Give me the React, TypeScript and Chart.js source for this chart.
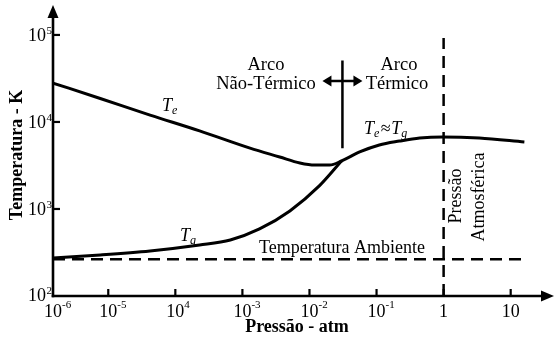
import React, { useEffect, useRef } from 'react';
import { Chart, registerables } from 'chart.js';
Chart.register(...registerables);

// Electron temperature Te (K) vs pressure (atm)
const pressureTe = [1.5e-6, 7.6e-6, 4.2e-5, 2.3e-4, 1.3e-3, 3.6e-3, 7.2e-3, 0.012, 0.02, 0.03, 0.056, 0.11, 0.22, 0.44, 0.97, 3.4, 16];
const tempTe = [28000, 18600, 12000, 7900, 5000, 3960, 3380, 3200, 3200, 3560, 4520, 5440, 6030, 6540, 6730, 6540, 5890];
// Gas temperature Tg (K) vs pressure (atm)
const pressureTg = [1.5e-6, 7.6e-6, 4.2e-5, 2.3e-4, 6.6e-4, 1.8e-3, 5.1e-3, 0.014, 0.03];
const tempTg = [274, 296, 329, 385, 440, 590, 950, 1840, 3560];
// Room temperature line
const ambientP = [1.5e-6, 16];
const ambientT = [265, 265];
// Atmospheric pressure line
const atmP = [1, 1];
const atmT = [100, 92500];
// Thermal / non-thermal boundary
const boundaryP = [0.031, 0.031];
const boundaryT = [51000, 5000];

const X_MIN = 1.5e-6;
const X_MAX = 36;
const Y_MIN = 100;
const Y_MAX = 204000;

const xTickValues = [1.5e-6, 1e-5, 1e-4, 1e-3, 1e-2, 1e-1, 1, 10];
const xTickBases = ['10', '10', '10', '10', '10', '10', '1', '10'];
const xTickExps = ['-6', '-5', '4', '-3', '-2', '-1', '', ''];
const yTickValues = [100, 1000, 10000, 100000];
const yTickExps = ['2', '3', '4', '5'];

const SERIF = "'Liberation Serif', 'Times New Roman', serif";

const toPts = (xs: number[], ys: number[]) => xs.map((x, i) => ({ x, y: ys[i] }));

type Seg = { t: string; font: string; dy?: number; dx?: number };
function drawSegs(ctx: CanvasRenderingContext2D, segs: Seg[], x: number, y: number) {
  let cx = x;
  for (const s of segs) {
    ctx.font = s.font;
    ctx.textAlign = 'left';
    ctx.textBaseline = 'alphabetic';
    cx += s.dx || 0;
    ctx.fillText(s.t, cx, y + (s.dy || 0));
    cx += ctx.measureText(s.t).width;
  }
}

const overlay = {
  id: 'overlay',
  afterDraw(chart: any) {
    const ctx: CanvasRenderingContext2D = chart.ctx;
    const xs = chart.scales.x;
    const ys = chart.scales.y;
    const left = chart.chartArea.left;
    const bottom = chart.chartArea.bottom;
    ctx.save();
    ctx.strokeStyle = '#000';
    ctx.fillStyle = '#000';
    ctx.lineWidth = 2.6;
    ctx.lineCap = 'butt';
    // y axis + arrow
    ctx.beginPath();
    ctx.moveTo(left, bottom + 1.3);
    ctx.lineTo(left, 15);
    ctx.stroke();
    ctx.beginPath();
    ctx.moveTo(left, 5);
    ctx.lineTo(left - 5.5, 18);
    ctx.lineTo(left + 5.5, 18);
    ctx.closePath();
    ctx.fill();
    // x axis + arrow
    ctx.beginPath();
    ctx.moveTo(left - 1.3, bottom);
    ctx.lineTo(545, bottom);
    ctx.stroke();
    ctx.beginPath();
    ctx.moveTo(554, bottom);
    ctx.lineTo(541, bottom - 5.5);
    ctx.lineTo(541, bottom + 5.5);
    ctx.closePath();
    ctx.fill();
    // ticks
    ctx.lineWidth = 2.2;
    xTickValues.forEach((v, i) => {
      if (i === 0) return;
      const px = xs.getPixelForValue(v);
      ctx.beginPath();
      ctx.moveTo(px, bottom);
      ctx.lineTo(px, bottom - 7);
      ctx.stroke();
    });
    yTickValues.forEach((v, i) => {
      if (i === 0) return;
      const py = ys.getPixelForValue(v);
      ctx.beginPath();
      ctx.moveTo(left, py);
      ctx.lineTo(left + 7, py);
      ctx.stroke();
    });
    // x tick labels
    xTickValues.forEach((v, i) => {
      const px = xs.getPixelForValue(v);
      ctx.font = `18px ${SERIF}`;
      ctx.textAlign = 'center';
      ctx.textBaseline = 'alphabetic';
      ctx.fillText(xTickBases[i], px, bottom + 21);
      if (xTickExps[i]) {
        const w = ctx.measureText(xTickBases[i]).width;
        ctx.font = `11px ${SERIF}`;
        ctx.textAlign = 'left';
        ctx.fillText(xTickExps[i], px + w / 2, bottom + 12);
      }
    });
    // y tick labels
    yTickValues.forEach((v, i) => {
      const py = ys.getPixelForValue(v) - (i === 0 ? 2 : 0);
      ctx.font = `18px ${SERIF}`;
      ctx.textAlign = 'right';
      ctx.textBaseline = 'alphabetic';
      ctx.fillText('10', 46, py + 6.5);
      ctx.font = `11px ${SERIF}`;
      ctx.textAlign = 'left';
      ctx.fillText(yTickExps[i], 46.5, py - 0.5);
    });
    // axis titles
    ctx.font = `bold 18px ${SERIF}`;
    ctx.textAlign = 'center';
    ctx.textBaseline = 'middle';
    ctx.fillText('Pressão - atm', 297, 327);
    ctx.save();
    ctx.translate(17, 155);
    ctx.rotate(-Math.PI / 2);
    ctx.fillText('Temperatura - K', 0, 0);
    ctx.restore();

    // curve labels
    const it = `italic 18px ${SERIF}`;
    const sub = `italic 12px ${SERIF}`;
    drawSegs(ctx, [{ t: 'T', font: it }, { t: 'e', font: sub, dy: 3 }], 162, 111);
    drawSegs(ctx, [{ t: 'T', font: it }, { t: 'g', font: sub, dy: 3 }], 180, 241);
    drawSegs(ctx, [
      { t: 'T', font: it },
      { t: 'e', font: sub, dy: 3 },
      { t: '≈', font: `18px ${SERIF}`, dx: 1.5 },
      { t: 'T', font: it, dx: 0.5 },
      { t: 'g', font: sub, dy: 3 },
    ], 364, 134);

    // region labels
    ctx.font = `18.5px ${SERIF}`;
    ctx.textAlign = 'center';
    ctx.textBaseline = 'middle';
    ctx.fillText('Arco', 266, 65);
    ctx.fillText('Não-Térmico', 266, 84);
    ctx.fillText('Arco', 399, 65);
    ctx.fillText('Térmico', 397, 84);
    ctx.font = `18px ${SERIF}`;
    ctx.fillText('Temperatura Ambiente', 342, 248);

    // double arrow at boundary
    const bx = xs.getPixelForValue(boundaryP[0]);
    const ay = 81;
    ctx.lineWidth = 2.5;
    ctx.beginPath();
    ctx.moveTo(bx - 12, ay);
    ctx.lineTo(bx + 12, ay);
    ctx.stroke();
    ctx.beginPath();
    ctx.moveTo(bx - 20, ay);
    ctx.lineTo(bx - 11, ay - 5.5);
    ctx.lineTo(bx - 11, ay + 5.5);
    ctx.closePath();
    ctx.fill();
    ctx.beginPath();
    ctx.moveTo(bx + 20, ay);
    ctx.lineTo(bx + 11, ay - 5.5);
    ctx.lineTo(bx + 11, ay + 5.5);
    ctx.closePath();
    ctx.fill();

    // rotated atmospheric label
    ctx.font = `18px ${SERIF}`;
    ctx.textAlign = 'center';
    ctx.textBaseline = 'middle';
    ctx.save();
    ctx.translate(456, 196);
    ctx.rotate(-Math.PI / 2);
    ctx.fillText('Pressão', 0, 0);
    ctx.restore();
    ctx.save();
    ctx.translate(479, 197);
    ctx.rotate(-Math.PI / 2);
    ctx.fillText('Atmosférica', 0, 0);
    ctx.restore();

    ctx.restore();
  },
};

export default function App() {
  const ref = useRef<HTMLCanvasElement | null>(null);
  useEffect(() => {
    document.body.style.margin = '0';
    if (!ref.current) return;
    const line = (xs: number[], ys: number[], extra: any = {}) => ({
      data: toPts(xs, ys),
      showLine: true,
      borderColor: '#000',
      backgroundColor: '#000',
      borderWidth: 3,
      pointRadius: 0,
      fill: false,
      ...extra,
    });
    const chart = new Chart(ref.current, {
      type: 'scatter',
      data: {
        datasets: [
          line(ambientP, ambientT, { borderDash: [12, 7], borderWidth: 2.5 }),
          line(atmP, atmT, { borderDash: [12, 7], borderWidth: 2.5 }),
          line(boundaryP, boundaryT, { borderWidth: 2.5 }),
          line(pressureTe, tempTe, { cubicInterpolationMode: 'monotone' }),
          line(pressureTg, tempTg, { cubicInterpolationMode: 'monotone' }),
        ],
      },
      options: {
        responsive: false,
        animation: false,
        devicePixelRatio: 1,
        layout: { padding: { top: 8, right: 6, left: 0, bottom: 0 } },
        plugins: { legend: { display: false }, tooltip: { enabled: false } },
        scales: {
          x: {
            type: 'logarithmic',
            min: X_MIN,
            max: X_MAX,
            grid: { display: false },
            border: { display: false },
            ticks: { display: false },
            afterFit: (s: any) => { s.height = 48; },
          },
          y: {
            type: 'logarithmic',
            min: Y_MIN,
            max: Y_MAX,
            grid: { display: false },
            border: { display: false },
            ticks: { display: false },
            afterFit: (s: any) => { s.width = 53; },
          },
        },
      },
      plugins: [overlay],
    } as any);
    return () => chart.destroy();
  }, []);
  return (
    <div style={{ position: 'fixed', left: 0, top: 0, width: 554, height: 344, background: '#fff' }}>
      <canvas ref={ref} width={554} height={344} style={{ display: 'block', width: 554, height: 344 }} />
    </div>
  );
}
